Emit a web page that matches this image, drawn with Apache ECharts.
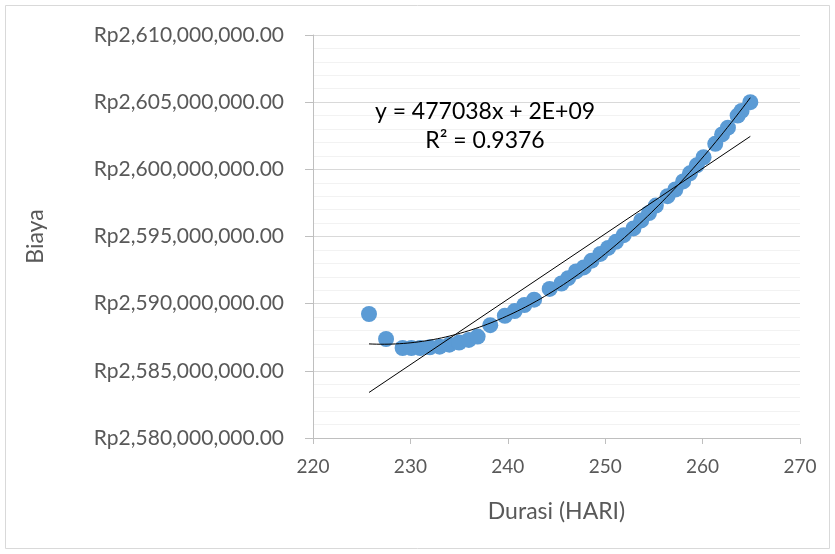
<!DOCTYPE html>
<html>
<head>
<meta charset="utf-8">
<script src="https://cdn.jsdelivr.net/npm/echarts@6/dist/echarts.min.js"></script>
<style>html,body{margin:0;padding:0;background:#fff}#c{width:835px;height:554px}</style>
</head>
<body>
<div id="c"></div>
<script>
// Durasi (HARI)
var durasi = [225.75, 227.5, 229.2, 230.1, 231.0, 232.0, 233.0, 234.0, 235.0, 236.0, 236.9, 238.2,
  239.7, 240.7, 241.7, 242.7, 244.3, 245.5, 246.2, 247.0, 247.8, 248.6, 249.5, 250.3, 251.1, 251.9,
  252.9, 253.7, 254.5, 255.2, 256.4, 257.2, 258.0, 258.7, 259.4, 260.1, 261.3, 262.0, 262.6, 263.6,
  264.0, 264.9];
// Biaya (in millions of Rupiah)
var biayaJuta = [2589.23, 2587.37, 2586.7, 2586.7, 2586.7, 2586.75, 2586.8, 2586.95, 2587.1, 2587.3,
  2587.55, 2588.4, 2589.1, 2589.45, 2589.9, 2590.3, 2591.1, 2591.5, 2591.9, 2592.4, 2592.7, 2593.2,
  2593.7, 2594.15, 2594.6, 2595.1, 2595.6, 2596.2, 2596.75, 2597.3, 2598.0, 2598.5, 2599.1, 2599.7,
  2600.3, 2600.9, 2601.9, 2602.6, 2603.1, 2604.0, 2604.35, 2605.0];
var xTicks = [220, 230, 240, 250, 260, 270];
var yTicks = [2580000000, 2585000000, 2590000000, 2595000000, 2600000000, 2605000000, 2610000000];
var eqText = 'y = 477038x + 2E+09';
var r2Text = 'R² = 0.9376';

var pts = durasi.map(function (d, i) { return [d, biayaJuta[i] * 1e6]; });

// least squares fits (linear and quadratic) computed from the data
var n = pts.length;
var mx = durasi.reduce(function (a, b) { return a + b; }, 0) / n;
var my = pts.reduce(function (a, p) { return a + p[1]; }, 0) / n;
function fitPoly(order) {
  var m = order + 1, A = [], b = [];
  for (var i = 0; i < m; i++) { A.push(new Array(m).fill(0)); b.push(0); }
  pts.forEach(function (p) {
    var t = p[0] - mx, v = p[1] - my;
    for (var i = 0; i < m; i++) {
      for (var j = 0; j < m; j++) A[i][j] += Math.pow(t, i + j);
      b[i] += v * Math.pow(t, i);
    }
  });
  for (var c = 0; c < m; c++) {
    var piv = c;
    for (var r = c + 1; r < m; r++) if (Math.abs(A[r][c]) > Math.abs(A[piv][c])) piv = r;
    var tmp = A[c]; A[c] = A[piv]; A[piv] = tmp; var tb = b[c]; b[c] = b[piv]; b[piv] = tb;
    for (var r2 = c + 1; r2 < m; r2++) {
      var f = A[r2][c] / A[c][c];
      for (var k = c; k < m; k++) A[r2][k] -= f * A[c][k];
      b[r2] -= f * b[c];
    }
  }
  var coef = new Array(m).fill(0);
  for (var i2 = m - 1; i2 >= 0; i2--) {
    var s = b[i2];
    for (var k2 = i2 + 1; k2 < m; k2++) s -= A[i2][k2] * coef[k2];
    coef[i2] = s / A[i2][i2];
  }
  return function (x) {
    var t = x - mx, s = 0;
    for (var i = 0; i < m; i++) s += coef[i] * Math.pow(t, i);
    return s + my;
  };
}
var lin = fitPoly(1), quad = fitPoly(2);
var xmin = Math.min.apply(null, durasi), xmax = Math.max.apply(null, durasi);
var linLine = [[xmin, lin(xmin)], [xmax, lin(xmax)]];
var quadLine = [];
for (var k = 0; k <= 100; k++) { var xx = xmin + (xmax - xmin) * k / 100; quadLine.push([xx, quad(xx)]); }

function rp(v) {
  return 'Rp' + Math.round(v).toString().replace(/\B(?=(\d{3})+(?!\d))/g, ',') + '.00';
}

var FONT = 'Lato';
var chart = echarts.init(document.getElementById('c'));
chart.setOption({
  animation: false,
  backgroundColor: '#fff',
  grid: { left: 313, right: 35, top: 35, bottom: 116 },
  graphic: [
    { type: 'rect', shape: { x: 5.5, y: 5.5, width: 824, height: 543 }, style: { fill: 'none', stroke: '#d9d9d9', lineWidth: 1 }, z: -1 },
    { type: 'text', x: 485, y: 112, style: { text: eqText, font: '23px ' + FONT, fill: '#000', align: 'center', verticalAlign: 'middle' }, z: 10 },
    { type: 'text', x: 485, y: 141, style: { text: r2Text, font: '23px ' + FONT, fill: '#000', align: 'center', verticalAlign: 'middle' }, z: 10 }
  ],
  xAxis: {
    type: 'value', min: xTicks[0], max: xTicks[xTicks.length - 1], interval: 10,
    name: 'Durasi (HARI)', nameLocation: 'middle', nameGap: 62,
    nameTextStyle: { fontFamily: FONT, fontSize: 23, color: '#595959' },
    axisLine: { show: true, lineStyle: { color: '#bfbfbf', width: 1 } },
    axisTick: { show: true, length: 6, lineStyle: { color: '#bfbfbf' } },
    axisLabel: { fontFamily: FONT, fontSize: 19, color: '#595959', margin: 19 },
    splitLine: { show: false }
  },
  yAxis: {
    type: 'value', min: yTicks[0], max: yTicks[yTicks.length - 1], interval: 5000000,
    name: 'Biaya', nameLocation: 'middle', nameGap: 266, nameRotate: 90,
    nameTextStyle: { fontFamily: FONT, fontSize: 23, color: '#595959' },
    axisLine: { show: true, onZero: false, lineStyle: { color: '#bfbfbf', width: 1 } },
    axisTick: { show: true, length: 8, lineStyle: { color: '#bfbfbf' } },
    axisLabel: { fontFamily: FONT, fontSize: 21, color: '#595959', margin: 29, formatter: rp },
    splitLine: { show: true, lineStyle: { color: '#d9d9d9', width: 1 } },
    minorTick: { show: false, splitNumber: 5 },
    minorSplitLine: { show: true, lineStyle: { color: '#f2f2f2', width: 1 } }
  },
  series: [
    { type: 'scatter', data: pts, symbolSize: 16, itemStyle: { color: '#5b9bd5', opacity: 1 }, z: 2 },
    { type: 'line', data: linLine, showSymbol: false, symbol: 'none', lineStyle: { color: '#000', width: 1 }, z: 3 },
    { type: 'line', data: quadLine, showSymbol: false, symbol: 'none', smooth: false, lineStyle: { color: '#000', width: 1 }, z: 3 }
  ]
});
</script>
</body>
</html>
